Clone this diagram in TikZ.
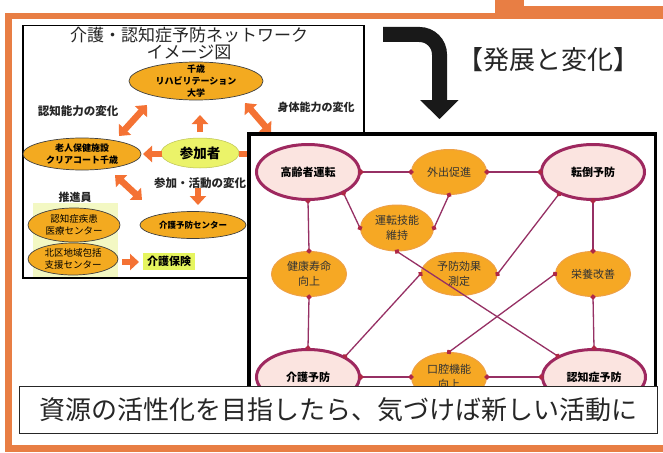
\documentclass[tikz,border=0pt]{standalone}
\usepackage{fontspec}
\setmainfont{Noto Sans CJK JP}
\usetikzlibrary{shapes.geometric,arrows.meta}
\definecolor{frameor}{RGB}{232,126,68}
\definecolor{lor}{RGB}{243,170,32}
\definecolor{arrowor}{RGB}{244,114,52}
\definecolor{ygreen}{RGB}{235,243,105}
\definecolor{paleyg}{RGB}{243,248,195}
\definecolor{kaigo}{RGB}{230,245,95}
\definecolor{pinkf}{RGB}{251,228,224}
\definecolor{magb}{RGB}{158,40,95}
\definecolor{edgec}{RGB}{150,48,100}
\definecolor{dotc}{RGB}{175,40,70}
\definecolor{ror}{RGB}{246,168,36}
\definecolor{rorb}{RGB}{238,160,70}
\tikzset{
 lell/.style={ellipse, draw=black!75, line width=0.7pt, fill=lor, inner sep=0pt, align=center, font=\bfseries\fontsize{9}{12}\selectfont},
 lellr/.style={lell, font=\fontsize{9.5}{12}\selectfont},
 btext/.style={inner sep=0pt, align=center, font=\bfseries\fontsize{11.5}{13}\selectfont, text=black!85},
 oarr/.style={draw=arrowor, line width=6.5pt, -{Triangle[width=16pt,length=9pt]}},
 odarr/.style={draw=arrowor, line width=6.5pt, {Triangle[width=16pt,length=9pt]}-{Triangle[width=16pt,length=9pt]}},
 bigell/.style={ellipse, draw=magb, line width=3pt, fill=pinkf, minimum width=103pt, minimum height=55pt, inner sep=0pt, font=\bfseries\fontsize{11}{13}\selectfont},
 smell/.style={ellipse, draw=rorb, line width=1pt, fill=ror, minimum width=75pt, minimum height=45pt, inner sep=0pt, align=center, font=\fontsize{11}{14.5}\selectfont, text=black!80},
 link/.style={draw=edgec, line width=1.3pt, {Circle[length=5pt,color=dotc]}-{Circle[length=5pt,color=dotc]}, shorten <=-2.5pt, shorten >=-2.5pt},
}
\begin{document}
\begin{tikzpicture}[x=1pt,y=-1pt]
\useasboundingbox (0,0) rectangle (663,452);
\fill[white] (0,0) rectangle (663,452);
% orange frame
\fill[frameor] (5,13) rectangle (12,452);
\fill[frameor] (5,445) rectangle (663,452);
\fill[frameor] (5,13) rectangle (495,19);
\fill[frameor] (495,0) rectangle (524,19);
\fill[frameor] (524,6) rectangle (663,19);

% ---------- left image ----------
\draw[line width=1.5pt, fill=white] (23,25.5) rectangle (364,278);
\node[inner sep=0pt, align=center, font=\fontsize{17}{17}\selectfont, text=black!85] (title) at (189,43.5) {介護・認知症予防ネットワーク\\イメージ図};
\node[lell, minimum width=134pt, minimum height=38pt] (CH) at (196,81) {};
\node[inner sep=0pt, align=center, font=\bfseries\fontsize{9}{12}\selectfont] (CHt) at (CH.center) {千歳\\リハビリテーション\\大学};
\node[ellipse, fill=ygreen, draw=ygreen!80!black, line width=0.5pt, minimum width=78pt, minimum height=30pt, inner sep=0pt, font=\bfseries\fontsize{13.5}{15}\selectfont] (SA) at (200,153) {参加者};
\node[lell, minimum width=118pt, minimum height=32pt] (RJ) at (82,154) {老人保健施設\\クリアコート千歳};
\node[lell, minimum width=106pt, minimum height=27pt, font=\bfseries\fontsize{8.5}{10}\selectfont] (KC) at (193,225) {介護予防センター};
\fill[paleyg] (33,203) rectangle (118,277);
\node[lellr, minimum width=92pt, minimum height=34pt] (NS) at (74,225) {認知症疾患\\医療センター};
\node[lellr, minimum width=90pt, minimum height=32pt] (KH) at (73,259) {北区地域包括\\支援センター};
\node[btext] (T1) at (78,111) {認知能力の変化};
\node[btext, font=\bfseries\fontsize{11}{13}\selectfont] (T2) at (316,107) {身体能力の変化};
\node[btext] (T3) at (200,183) {参加・活動の変化};
\node[btext, font=\bfseries\fontsize{11}{13}\selectfont] (T4) at (75,197) {推進員};
\node[fill=kaigo, inner sep=2pt, minimum width=52pt, minimum height=17pt, font=\bfseries\fontsize{11}{13}\selectfont] (KHo) at (169,261.5) {介護保険};
% orange arrows
\coordinate (a1s) at (119,136); \coordinate (a1e) at (147,105);
\coordinate (a2s) at (200,132); \coordinate (a2e) at (200,115);
\coordinate (a3s) at (245,103); \coordinate (a3e) at (271,133);
\coordinate (a4s) at (162,154); \coordinate (a4e) at (143,154);
\coordinate (a5s) at (239,154); \coordinate (a5e) at (257,154);
\coordinate (a6s) at (115,175); \coordinate (a6e) at (142,200);
\coordinate (a7s) at (198,188); \coordinate (a7e) at (198,205);
\coordinate (a8s) at (122,262); \coordinate (a8e) at (139,262);
\draw[odarr] (a1s) -- (a1e);
\draw[oarr] (a2s) -- (a2e);
\draw[odarr] (a3s) -- (a3e);
\draw[oarr] (a4s) -- (a4e);
\draw[oarr] (a5s) -- (a5e);
\draw[odarr] (a6s) -- (a6e);
\draw[oarr] (a7s) -- (a7e);
\draw[oarr] (a8s) -- (a8e);

% ---------- right image ----------
\draw[line width=3.5pt, fill=white] (249,134) rectangle (655.5,425);
\node[bigell] (KD) at (308,172) {高齢者運転};
\node[smell] (GS) at (449,172) {外出促進};
\node[bigell] (TY) at (593,172) {転倒予防};
\node[smell, minimum width=73pt, minimum height=46pt] (UG) at (397,228) {運転技能\\維持};
\node[smell] (KJ) at (309,274) {健康寿命\\向上};
\node[smell, minimum width=76pt, minimum height=43pt] (YK) at (459,274) {予防効果\\測定};
\node[smell] (EK) at (593,274) {栄養改善};
\node[bigell] (KY) at (308,377) {介護予防};
\node[smell, minimum height=49pt] (KK) at (449,377) {口腔機能\\向上};
\node[bigell] (NY) at (594,377) {認知症予防};
\draw[link] (KD.east) -- (GS.west);
\draw[link] (GS.east) -- (TY.west);
\draw[link] (KD.south) -- (KJ.north);
\draw[link] (KD.-31) -- (UG.west);
\draw[link] (GS.south) -- (UG.east);
\draw[link] (UG.south) -- (NY.150);
\draw[link] (TY.-147) -- (YK.east);
\draw[link] (TY.south) -- (EK.north);
\draw[link] (KJ.south) -- (KY.north);
\draw[link] (KY.29) -- (YK.west);
\draw[link] (KK.north) -- (EK.west);
\draw[link] (KY.east) -- (KK.west);
\draw[link] (KK.east) -- (NY.west);
\draw[link] (EK.south) -- (NY.north);

% ---------- caption ----------
\node[draw=black!85, line width=1.5pt, fill=white, minimum width=638pt, minimum height=47pt, inner sep=0pt, font=\fontsize{26}{30}\selectfont, text=black!85] (cap) at (338.5,410) {資源の活性化を目指したら、気づけば新しい活動に};

% ---------- bent arrow and heading ----------
\coordinate (ba0) at (383,34.5); \coordinate (ba1) at (439.5,34.5); \coordinate (ba2) at (439.5,101);
\draw[line width=15pt, rounded corners=20pt, black!90] (ba0) -- (ba1) -- (ba2);
\fill[black!90] (420,100) -- (458.5,100) -- (439.5,119) -- cycle;
\node[font=\fontsize{26}{30}\selectfont, inner sep=0pt, text=black!85] (hd) at (548,60) {【発展と変化】};
\end{tikzpicture}
\end{document}
